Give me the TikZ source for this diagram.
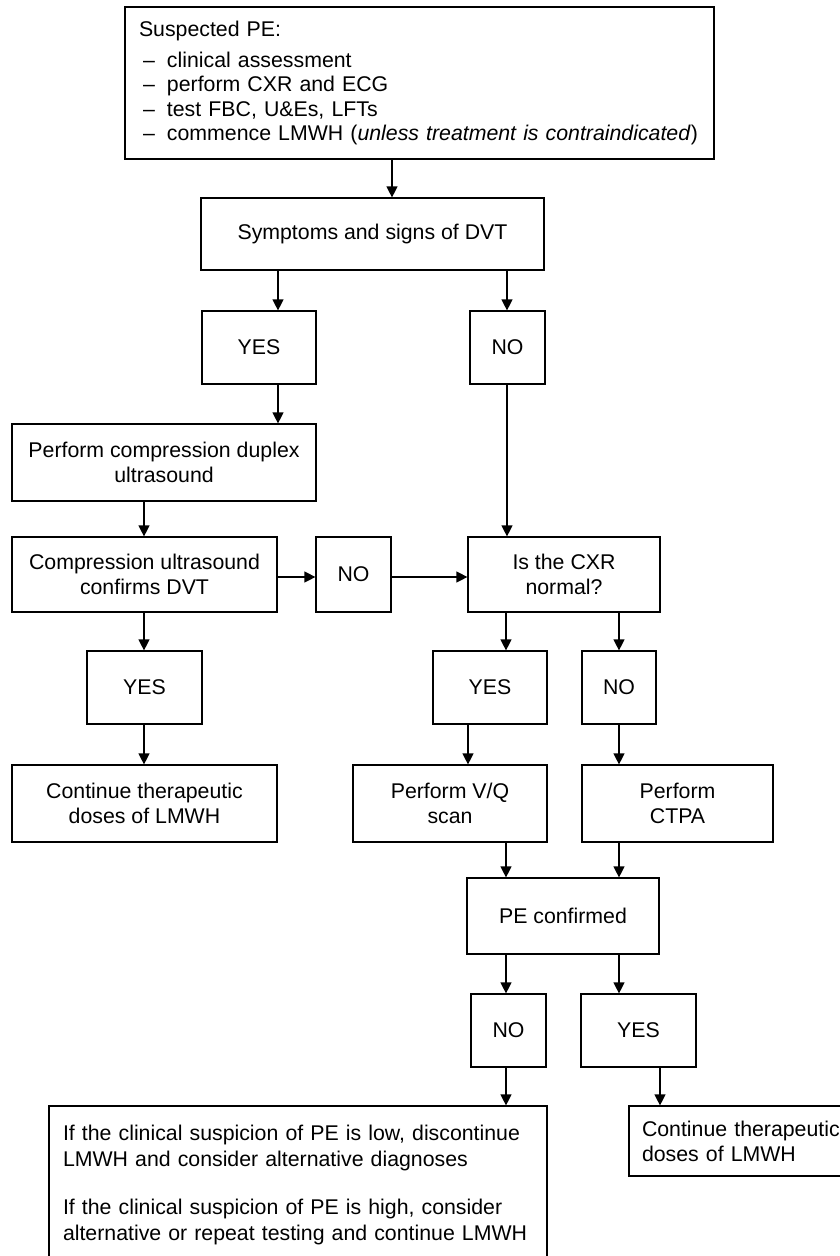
\documentclass[tikz,border=0pt]{standalone}
\usepackage{fontspec}
\setmainfont{Liberation Sans}
\usetikzlibrary{arrows.meta}
\begin{document}
\begin{tikzpicture}[x=1pt,y=-1pt,
  box/.style={draw, line width=1.2pt, inner sep=0pt, align=center,
    font=\fontsize{21.3}{25}\selectfont},
  sz/.style 2 args={minimum width=#1pt, minimum height=#2pt},
  arr/.style={line width=1.2pt, -{Triangle[length=11pt,width=11pt]}},
  li/.style={},
]
\newcommand{\itemdash}{\makebox[28pt][l]{\hspace{4pt}–}}
\useasboundingbox (0,0) rectangle (840,1256);

% ---- boxes ----
\node[box, align=left, text width=561pt, inner xsep=14pt, minimum height=152pt,
      font=\fontsize{21.3}{24.3}\selectfont] (top) at (419.5,83)
  {Suspected PE:\\[6.5pt]
   \itemdash clinical assessment\\
   \itemdash perform CXR and ECG\\
   \itemdash test FBC, U\&Es, LFTs\\
   \mbox{\itemdash commence LMWH (\textit{unless treatment is contraindicated})}};

\node[box, sz={343}{72}]  (sym)   at (372.5,234)   {Symptoms and signs of DVT};
\node[box, sz={114}{73}]  (yes1)  at (259,347.5)   {YES};
\node[box, sz={75}{73}]   (no1)   at (507.5,347.5) {NO};
\node[box, sz={304}{77}]  (perf)  at (164,462.5)   {Perform compression duplex\\ultrasound};
\node[box, sz={265}{75}]  (comp)  at (144.5,574.5) {Compression ultrasound\\confirms DVT};
\node[box, sz={75}{75}]   (no2)   at (353.5,574.5) {NO};
\node[box, sz={192}{75}]  (cxr)   at (564,574.5)   {Is the CXR\\normal?};
\node[box, sz={115}{73}]  (yes2)  at (144.5,687.5) {YES};
\node[box, sz={265}{77}]  (cont1) at (144.5,803.5) {Continue therapeutic\\doses of LMWH};
\node[box, sz={114}{73}]  (yes3)  at (490,687.5)   {YES};
\node[box, sz={74}{73}]   (no3)   at (619,687.5)   {NO};
\node[box, sz={194}{77}]  (vq)    at (450,803.5)   {Perform V/Q\\scan};
\node[box, sz={191}{77}]  (ctpa)  at (677.5,803.5) {Perform\\CTPA};
\node[box, sz={192}{76}]  (pe)    at (563,916)     {PE confirmed};
\node[box, sz={75}{73}]   (no4)   at (508.5,1030.5) {NO};
\node[box, sz={115}{73}]  (yes4)  at (638.5,1030.5) {YES};

\node[box, align=left, text width=470pt, inner xsep=14pt, minimum height=158pt,
      font=\fontsize{21.3}{26}\selectfont] (big) at (298,1185)
  {If the clinical suspicion of PE is low, discontinue\\
   LMWH and consider alternative diagnoses\\[22pt]
   If the clinical suspicion of PE is high, consider\\
   alternative or repeat testing and continue LMWH};

\node[box, align=left, text width=215pt, inner xsep=13pt, minimum height=70pt] (cont2)
  at (749.5,1141) {Continue therapeutic\\doses of LMWH};

% ---- connectors ----
\draw[arr] (top.south  -| 392,0) -- (sym.north  -| 392,0);
\draw[arr] (sym.south  -| 278,0) -- (yes1.north -| 278,0);
\draw[arr] (sym.south  -| 507,0) -- (no1.north  -| 507,0);
\draw[arr] (yes1.south -| 278,0) -- (perf.north -| 278,0);
\draw[arr] (no1.south  -| 507,0) -- (cxr.north  -| 507,0);
\draw[arr] (perf.south -| 144,0) -- (comp.north -| 144,0);
\draw[arr] (comp.east  |- 0,577) -- (no2.west   |- 0,577);
\draw[arr] (no2.east   |- 0,577) -- (cxr.west   |- 0,577);
\draw[arr] (comp.south -| 144,0) -- (yes2.north -| 144,0);
\draw[arr] (yes2.south -| 144,0) -- (cont1.north -| 144,0);
\draw[arr] (cxr.south  -| 506,0) -- (yes3.north -| 506,0);
\draw[arr] (cxr.south  -| 619,0) -- (no3.north  -| 619,0);
\draw[arr] (yes3.south -| 468,0) -- (vq.north   -| 468,0);
\draw[arr] (no3.south  -| 619,0) -- (ctpa.north -| 619,0);
\draw[arr] (vq.south   -| 506,0) -- (pe.north   -| 506,0);
\draw[arr] (ctpa.south -| 619,0) -- (pe.north   -| 619,0);
\draw[arr] (pe.south   -| 506,0) -- (no4.north  -| 506,0);
\draw[arr] (pe.south   -| 619,0) -- (yes4.north -| 619,0);
\draw[arr] (no4.south  -| 506,0) -- (big.north  -| 506,0);
\draw[arr] (yes4.south -| 660,0) -- (cont2.north -| 660,0);
\end{tikzpicture}
\end{document}
